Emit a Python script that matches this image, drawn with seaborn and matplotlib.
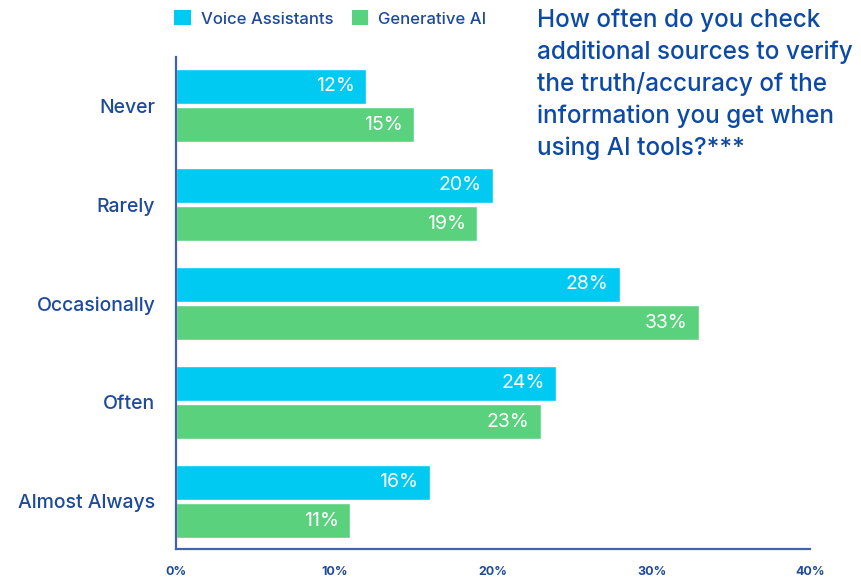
import matplotlib
matplotlib.use("Agg")
import matplotlib.pyplot as plt
import seaborn as sns
import pandas as pd
from matplotlib.patches import Patch

categories = ["Never", "Rarely", "Occasionally", "Often", "Almost Always"]
voice_assistants = [12, 20, 28, 24, 16]
generative_ai = [15, 19, 33, 23, 11]
series_names = ["Voice Assistants", "Generative AI"]
x_ticks = [0, 10, 20, 30, 40]
x_tick_labels = ["0%", "10%", "20%", "30%", "40%"]
question = ("How often do you check\nadditional sources to verify\n"
            "the truth/accuracy of the\ninformation you get when\n"
            "using AI tools?***")

df = pd.DataFrame({
    "category": categories * 2,
    "series": [series_names[0]] * len(categories) + [series_names[1]] * len(categories),
    "value": voice_assistants + generative_ai,
})

sns.set_theme(style="white")
plt.rcParams["font.family"] = ["Inter", "DejaVu Sans"]

CYAN = "#00C9F2"
GREEN = "#5AD17D"
NAVY = "#1D4A9A"
TITLE = "#0D4AA6"
SPINE = "#4463AE"

fig = plt.figure(figsize=(8.61, 5.78), dpi=100)
ax = fig.add_axes([176 / 861, 1 - 549 / 578, (810 - 176) / 861, (549 - 57) / 578])

sns.barplot(data=df, x="value", y="category", hue="series", order=categories,
            hue_order=series_names, palette=[CYAN, GREEN], width=0.78, gap=0.1,
            saturation=1, legend=False, ax=ax, orient="h")

for container in ax.containers:
    texts = ax.bar_label(container, labels=[f"{v:.0f}%" for v in container.datavalues],
                         padding=-8, color="white", fontsize=14, label_type="edge")
    for t in texts:
        t.set_ha("right")

ax.set_xlim(0, 40)
ax.set_ylim(4.48, -0.49)
ax.set_xticks(x_ticks)
ax.set_xticklabels(x_tick_labels, fontsize=9, fontweight="bold", color=NAVY)
ax.tick_params(axis="x", length=0, pad=12)
ax.tick_params(axis="y", length=0, pad=15, labelsize=14, labelcolor=NAVY)
for t in ax.get_yticklabels():
    t.set_fontweight("medium")
ax.set_xlabel("")
ax.set_ylabel("")
for side in ["top", "right"]:
    ax.spines[side].set_visible(False)
for side in ["left", "bottom"]:
    ax.spines[side].set_color(SPINE)
    ax.spines[side].set_linewidth(1.6)

handles = [Patch(facecolor=CYAN, edgecolor="none"), Patch(facecolor=GREEN, edgecolor="none")]
fig.legend(handles, series_names, loc="upper left", bbox_to_anchor=(159 / 861, 1.008),
           ncol=2, frameon=False, prop={"size": 12, "weight": "medium"}, labelcolor=NAVY,
           handlelength=1.0, handleheight=1.0, handletextpad=0.6, columnspacing=1.1)

fig.text(537 / 861, 1 - 8 / 578, question, ha="left", va="top", fontsize=17.5,
         fontweight="medium", color=TITLE, linespacing=1.46)

fig.savefig("out.png", dpi=100)
